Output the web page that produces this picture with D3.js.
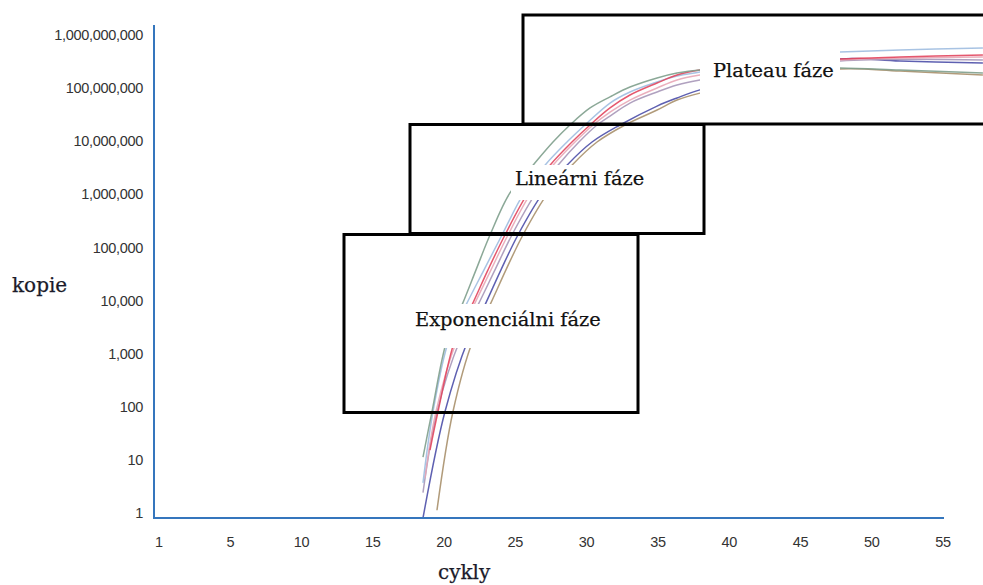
<!DOCTYPE html>
<html><head><meta charset="utf-8">
<script src="https://cdn.jsdelivr.net/npm/d3@7"></script>
<style>body{margin:0;background:#fff}svg{display:block}</style>
</head><body>
<svg id="chart" width="983" height="585"></svg>
<script>
// ---- data ----
const cycleTicks = ["1","5","10","15","20","25","30","35","40","45","50","55"];
const copyTicks = [1,10,100,1e3,1e4,1e5,1e6,1e7,1e8,1e9];
const phaseLabels = ["Exponenciálni fáze","Lineárni fáze","Plateau fáze"];
const axisTitles = ["cykly","kopie"];
// each curve: [cycle, copies]
const curveGreen = [[18.52,14],[19.15,100],[20.20,2250],[21.26,1.03e4],[22.24,4.7e4],[23.22,2.13e5],[24.62,1.32e6],[26.24,4.4e6],[27.64,1.2e7],[28.83,2.51e7],[30.24,5.25e7],[31.64,8.5e7],[33.04,1.3e8],[34.94,1.93e8],[36.34,2.39e8],[37.95,2.72e8],[42.86,2.84e8],[47.77,2.97e8],[51.98,2.72e8],[57.80,2.39e8]];
const curveLightBlue = [[18.52,4.6],[19.22,100],[20.34,2250],[21.54,1.03e4],[22.80,4.7e4],[24.06,2.13e5],[25.61,1.32e6],[27.08,4.4e6],[28.62,1.2e7],[29.88,2.51e7],[31.64,6.5e7],[33.04,1.05e8],[34.94,1.62e8],[36.34,2.1e8],[37.95,2.5e8],[42.86,4.21e8],[45.32,5.7e8],[47.77,5.95e8],[51.98,6.5e8],[57.80,7.08e8]];
const curveRed = [[19.01,19],[19.57,100],[20.76,2250],[21.96,1.03e4],[23.08,4.7e4],[24.27,2.13e5],[25.89,1.32e6],[27.43,4.4e6],[28.97,1.2e7],[30.24,2.51e7],[31.64,5.25e7],[33.04,9.2e7],[34.94,1.55e8],[36.34,2.19e8],[37.95,2.72e8],[42.86,3.54e8],[47.77,4.39e8],[51.98,4.79e8],[57.80,5.23e8]];
const curvePink = [[18.66,5.7],[19.43,100],[20.90,2250],[22.10,1.03e4],[23.29,4.7e4],[24.48,2.13e5],[26.10,1.32e6],[27.64,4.4e6],[29.18,1.2e7],[30.45,2.51e7],[31.64,4.4e7],[33.04,7.4e7],[34.94,1.25e8],[36.34,1.77e8],[37.95,2.19e8],[42.86,3.24e8],[47.77,4.21e8],[57.80,4.79e8]];
const curvePurple = [[18.52,3.0],[19.50,100],[21.12,2250],[22.38,1.03e4],[23.57,4.7e4],[24.76,2.13e5],[26.45,1.32e6],[27.99,4.4e6],[29.46,1.2e7],[30.73,2.51e7],[31.64,3.7e7],[33.04,6.5e7],[34.94,1.05e8],[36.34,1.42e8],[37.95,1.77e8],[42.86,2.72e8],[47.77,4.03e8],[57.80,4.21e8]];
const curveDarkBlue = [[18.52,1],[20.06,100],[21.68,2250],[22.87,1.03e4],[23.99,4.7e4],[25.18,2.13e5],[26.94,1.32e6],[28.62,4.4e6],[30.38,1.2e7],[32.34,2.51e7],[34.94,5.7e7],[36.34,8.1e7],[37.95,1.15e8],[42.86,2.29e8],[47.77,4.39e8],[51.98,4.03e8],[57.80,3.69e8]];
const curveTan = [[19.50,1.4],[20.62,100],[22.03,2250],[23.22,1.03e4],[24.34,4.7e4],[25.53,2.13e5],[27.29,1.32e6],[28.97,4.4e6],[30.73,1.2e7],[32.69,2.51e7],[34.94,4.8e7],[36.34,7.4e7],[37.95,1.0e8],[42.86,1.77e8],[47.77,2.84e8],[51.98,2.61e8],[57.80,2.19e8]];

// ---- styling / layout ----
const curves = [
  {data: curveTan, color: "#a8906c"},
  {data: curveDarkBlue, color: "#4d4fa8"},
  {data: curvePurple, color: "#a797b8"},
  {data: curvePink, color: "#e8a6b6"},
  {data: curveLightBlue, color: "#9fbde0"},
  {data: curveRed, color: "#e2465e"},
  {data: curveGreen, color: "#7e9f8c"}
];
const svg = d3.select("#chart");
const x = d3.scaleLinear().domain([0,55]).range([159,943]);
const xTick = d3.scalePoint().domain(cycleTicks).range([159,943]);
const y = d3.scaleLog().domain([1,1e9]).range([518,40]);

// curves
const line = d3.line().x(d=>x(d[0])).y(d=>y(d[1])).curve(d3.curveCatmullRom.alpha(0.5));
svg.append("g").selectAll("path").data(curves).join("path")
  .attr("d", d=>line(d.data))
  .attr("fill","none").attr("stroke", d=>d.color)
  .attr("stroke-width",1.5).attr("stroke-opacity",0.9);

// axes
const axisColor = "#3576bd";
svg.append("line").attr("x1",154).attr("x2",154).attr("y1",25).attr("y2",519)
  .attr("stroke",axisColor).attr("stroke-width",2);
svg.append("line").attr("x1",153).attr("x2",944).attr("y1",518).attr("y2",518)
  .attr("stroke",axisColor).attr("stroke-width",2);

const fmt = d3.format(",");
svg.append("g").selectAll("text").data(copyTicks).join("text")
  .attr("x",143).attr("y",d=>y(d)-5).attr("dy","0.35em")
  .attr("text-anchor","end")
  .attr("font-family","'Liberation Sans', Arial, sans-serif")
  .attr("font-size",14.5).attr("letter-spacing",-0.3).attr("fill","#333")
  .text(d=>fmt(d));
svg.append("g").selectAll("text").data(cycleTicks).join("text")
  .attr("x",d=>xTick(d)).attr("y",547)
  .attr("text-anchor","middle")
  .attr("font-family","'Liberation Sans', Arial, sans-serif")
  .attr("font-size",14.5).attr("letter-spacing",-0.3).attr("fill","#333")
  .text(d=>d);

const serif = "'DejaVu Serif', serif";
svg.append("text").attr("x",438).attr("y",579).attr("font-family",serif)
  .attr("font-size",20).attr("fill","#1b1b2a").attr("stroke","#1b1b2a").attr("stroke-width",0.25)
  .text(axisTitles[0]);
svg.append("text").attr("x",12).attr("y",292).attr("font-family",serif)
  .attr("font-size",20).attr("fill","#1b1b2a").attr("stroke","#1b1b2a").attr("stroke-width",0.25)
  .text(axisTitles[1]);

// phase label backgrounds (white, hide curves)
const labelBoxes = [
  {x:408,y:304,w:200,h:44,tx:415,ty:326},
  {x:511,y:165,w:138,h:35,tx:515,ty:185},
  {x:700,y:40,w:140,h:58,tx:713,ty:77}
];
svg.append("g").selectAll("rect").data(labelBoxes).join("rect")
  .attr("x",d=>d.x).attr("y",d=>d.y).attr("width",d=>d.w).attr("height",d=>d.h)
  .attr("fill","#fff");
svg.append("g").selectAll("text").data(labelBoxes).join("text")
  .attr("x",d=>d.tx).attr("y",d=>d.ty)
  .attr("font-family",serif).attr("font-size",19.4).attr("fill","#111")
  .attr("stroke","#111").attr("stroke-width",0.25)
  .text((d,i)=>phaseLabels[i]);

// phase frames
const frames = [
  {x:344,y:234.5,w:294,h:178},
  {x:410,y:124.5,w:294,h:109},
  {x:523,y:15,w:480,h:109}
];
svg.append("g").selectAll("rect").data(frames).join("rect")
  .attr("x",d=>d.x).attr("y",d=>d.y).attr("width",d=>d.w).attr("height",d=>d.h)
  .attr("fill","none").attr("stroke","#000").attr("stroke-width",3);
</script>
</body></html>
